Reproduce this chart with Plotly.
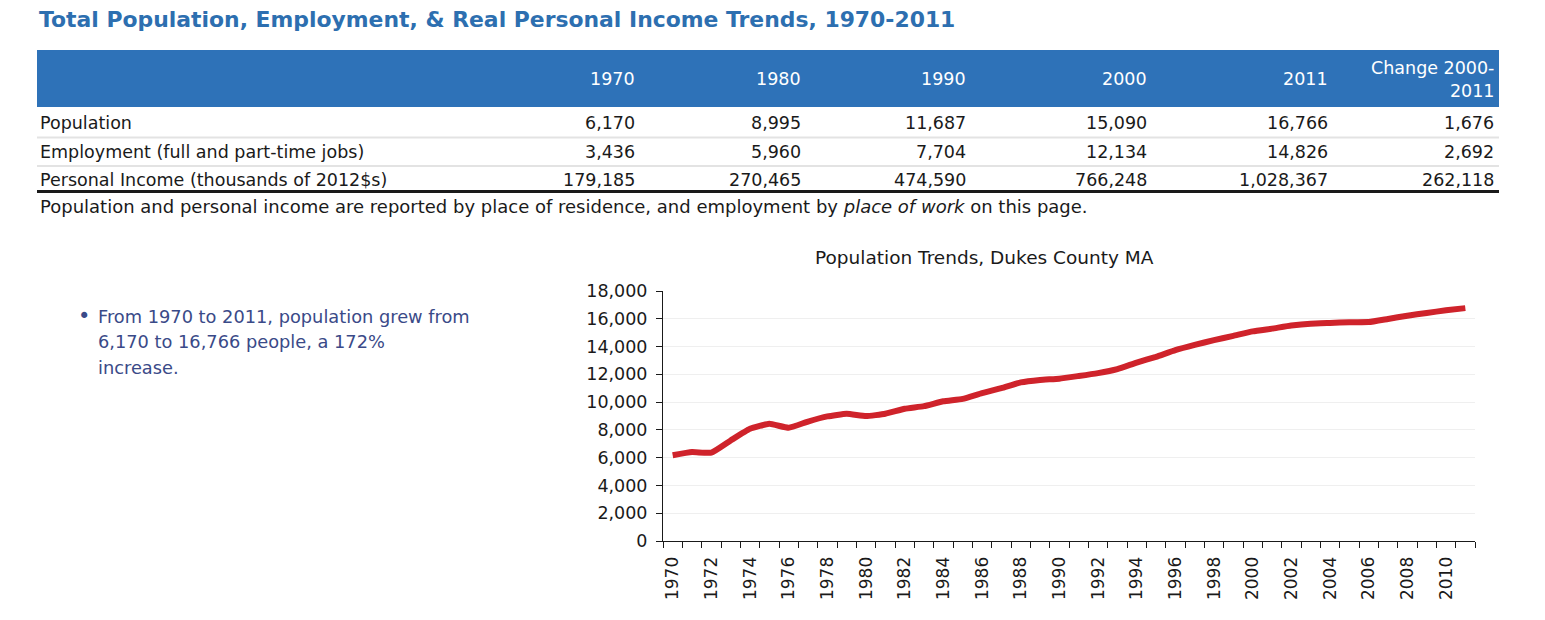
import plotly.graph_objects as go

W, H = 1545, 620

# ---------------- data ----------------
years = list(range(1970, 2012))
population = [6170, 6400, 6360, 7240, 8080, 8440, 8150, 8600, 8970, 9160,
              8995, 9160, 9520, 9710, 10060, 10230, 10650, 11000, 11420, 11600,
              11687, 11880, 12090, 12380, 12850, 13260, 13740, 14120, 14460, 14770,
              15090, 15290, 15510, 15650, 15700, 15750, 15760, 15990, 16220, 16420,
              16610, 16766]
xtick_years = list(range(1970, 2011, 2))
ytick_vals = list(range(0, 18001, 2000))

table_columns = ["1970", "1980", "1990", "2000", "2011", "Change 2000-<br>2011"]
row_labels = ["Population", "Employment (full and part-time jobs)",
              "Personal Income (thousands of 2012$s)"]
pop_row = ["6,170", "8,995", "11,687", "15,090", "16,766", "1,676"]
emp_row = ["3,436", "5,960", "7,704", "12,134", "14,826", "2,692"]
inc_row = ["179,185", "270,465", "474,590", "766,248", "1,028,367", "262,118"]

title_text = "Total Population, Employment, & Real Personal Income Trends, 1970-2011"
note_text = ("Population and personal income are reported by place of residence, "
             "and employment by <i>place of work</i> on this page.")
chart_title = "Population Trends, Dukes County MA"
bullet_lines = ["From 1970 to 2011, population grew from",
                "6,170 to 16,766 people, a 172%",
                "increase."]

# ---------------- helpers ----------------
def px(x):
    return x / W

def py(y):
    return 1 - y / H

FONT = "DejaVu Sans, Liberation Sans, Arial, sans-serif"
BLUE_HDR = "#2e72b8"
TITLE_BLUE = "#2d6fb0"
TXT = "#1a1a1a"
FS = 17.5

fig = go.Figure()

fig.add_trace(go.Scatter(
    x=years, y=population, mode="lines",
    line=dict(color="#cf232b", width=6, shape="spline", smoothing=0.4),
    hoverinfo="x+y", showlegend=False,
))

shapes = []
annotations = []

# title
annotations.append(dict(x=px(37), y=py(20), xref="paper", yref="paper",
                        text="<b>" + title_text + "</b>", showarrow=False,
                        xanchor="left", yanchor="middle",
                        font=dict(family=FONT, size=21.9, color=TITLE_BLUE)))

# table header band
shapes.append(dict(type="rect", xref="paper", yref="paper",
                   x0=px(37), x1=px(1499), y0=py(107), y1=py(50),
                   fillcolor=BLUE_HDR, line=dict(width=0), layer="below"))

col_right = [637, 803, 968, 1149, 1330, 1496]
for cx, name in zip(col_right, table_columns):
    annotations.append(dict(x=px(cx), y=py(79.5), xref="paper", yref="paper",
                            text=name, showarrow=False, xanchor="right",
                            yanchor="middle", align="right",
                            font=dict(family=FONT, size=FS, color="white")))

row_y = [123, 152, 180]
rows = [pop_row, emp_row, inc_row]
for ry, label, vals in zip(row_y, row_labels, rows):
    annotations.append(dict(x=px(38), y=py(ry), xref="paper", yref="paper",
                            text=label, showarrow=False, xanchor="left",
                            yanchor="middle",
                            font=dict(family=FONT, size=FS, color=TXT)))
    for cx, v in zip(col_right, vals):
        annotations.append(dict(x=px(cx), y=py(ry), xref="paper", yref="paper",
                                text=v, showarrow=False, xanchor="right",
                                yanchor="middle",
                                font=dict(family=FONT, size=FS, color=TXT)))

for ly in [137.5, 166]:
    shapes.append(dict(type="line", xref="paper", yref="paper",
                       x0=px(37), x1=px(1499), y0=py(ly), y1=py(ly),
                       line=dict(color="#e3e3e3", width=2)))
shapes.append(dict(type="line", xref="paper", yref="paper",
                   x0=px(37), x1=px(1499), y0=py(191.5), y1=py(191.5),
                   line=dict(color=TXT, width=3)))

# note
annotations.append(dict(x=px(38), y=py(206), xref="paper", yref="paper",
                        text=note_text, showarrow=False, xanchor="left",
                        yanchor="middle",
                        font=dict(family=FONT, size=18, color=TXT)))

# bullet
annotations.append(dict(x=px(84), y=py(316), xref="paper", yref="paper",
                        text="•", showarrow=False, xanchor="center",
                        yanchor="middle",
                        font=dict(family=FONT, size=21, color="#3a4a88")))
for i, line in enumerate(bullet_lines):
    annotations.append(dict(x=px(96), y=py(316 + 25.5 * i), xref="paper", yref="paper",
                            text=line, showarrow=False, xanchor="left",
                            yanchor="middle",
                            font=dict(family=FONT, size=17.8, color="#3a4a88")))

# chart title
annotations.append(dict(x=px(984.5), y=py(257), xref="paper", yref="paper",
                        text=chart_title, showarrow=False, xanchor="center",
                        yanchor="middle",
                        font=dict(family=FONT, size=18.5, color=TXT)))

fig.update_layout(
    width=W, height=H,
    margin=dict(l=0, r=0, t=0, b=0, autoexpand=False),
    paper_bgcolor="white", plot_bgcolor="white",
    shapes=shapes, annotations=annotations,
    font=dict(family=FONT, size=16, color=TXT),
    xaxis=dict(
        domain=[px(663), px(1475)],
        range=[1969.5, 2011.5],
        tickmode="array", tickvals=xtick_years,
        ticktext=[str(y) for y in xtick_years],
        tickangle=-90, ticks="", showgrid=False, zeroline=False,
        showline=True, linecolor=TXT, linewidth=1,
        tickfont=dict(family=FONT, size=17, color=TXT),
        minor=dict(tick0=1969.5, dtick=1, ticks="outside", ticklen=6,
                   tickcolor=TXT, tickwidth=1, showgrid=False),
        ticklabelstandoff=8,
        automargin=False,
        fixedrange=True,
    ),
    yaxis=dict(
        domain=[py(541), py(291)],
        range=[0, 18000],
        tickmode="array", tickvals=ytick_vals,
        tickformat=",", ticks="outside", ticklen=6, tickcolor=TXT,
        showline=True, linecolor=TXT, linewidth=1,
        showgrid=True, gridcolor="#efefef", gridwidth=1, zeroline=False,
        tickfont=dict(family=FONT, size=FS, color=TXT),
        ticklabelstandoff=5,
        automargin=False,
        fixedrange=True,
    ),
)

fig.write_html(
    "out.html",
    config={"displayModeBar": False},
    post_script="document.body.style.margin='0px';document.body.style.overflow='hidden';",
)
